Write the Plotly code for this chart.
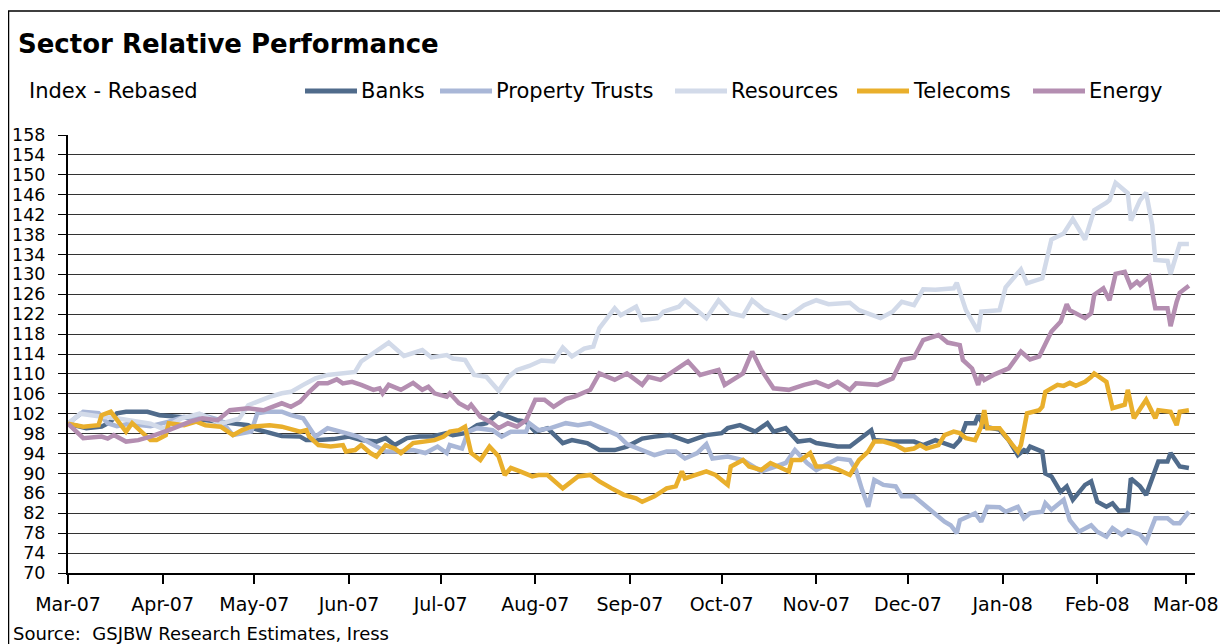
import plotly.graph_objects as go

# ---- data (index, rebased to 100 on 1 Mar 2007) ----
banks_dates = ["2007-03-01", "2007-03-07", "2007-03-12", "2007-03-15", "2007-03-17", "2007-03-20",
               "2007-03-27", "2007-03-31", "2007-04-06", "2007-04-11", "2007-04-20", "2007-04-29",
               "2007-05-01", "2007-05-06", "2007-05-10", "2007-05-16", "2007-05-18", "2007-05-22",
               "2007-05-27", "2007-06-01", "2007-06-05", "2007-06-10", "2007-06-13", "2007-06-16",
               "2007-06-20", "2007-06-24", "2007-06-28", "2007-07-03", "2007-07-05", "2007-07-09",
               "2007-07-13", "2007-07-16", "2007-07-20", "2007-07-23", "2007-07-26", "2007-07-29",
               "2007-08-01", "2007-08-05", "2007-08-10", "2007-08-13", "2007-08-18", "2007-08-22",
               "2007-08-27", "2007-08-31", "2007-09-05", "2007-09-09", "2007-09-14", "2007-09-20",
               "2007-09-26", "2007-10-01", "2007-10-03", "2007-10-07", "2007-10-12", "2007-10-16",
               "2007-10-18", "2007-10-22", "2007-10-26", "2007-10-30", "2007-11-01", "2007-11-05",
               "2007-11-08", "2007-11-12", "2007-11-14", "2007-11-19", "2007-11-20", "2007-11-26",
               "2007-12-03", "2007-12-06", "2007-12-10", "2007-12-15", "2007-12-16", "2007-12-18",
               "2007-12-20", "2007-12-23", "2007-12-24", "2007-12-26", "2007-12-31", "2008-01-03",
               "2008-01-06", "2008-01-08", "2008-01-09", "2008-01-10", "2008-01-14", "2008-01-15",
               "2008-01-17", "2008-01-20", "2008-01-22", "2008-01-24", "2008-01-28", "2008-01-30",
               "2008-02-01", "2008-02-04", "2008-02-06", "2008-02-08", "2008-02-11", "2008-02-12",
               "2008-02-15", "2008-02-17", "2008-02-20", "2008-02-21", "2008-02-24", "2008-02-25",
               "2008-02-28", "2008-03-02"]
banks_vals = [100.0, 99.1, 99.4, 100.4, 102.1, 102.4,
              102.4, 101.7, 101.4, 101.0, 100.5, 99.7,
              99.0, 98.1, 97.5, 97.4, 96.7, 96.7,
              96.9, 97.4, 96.7, 96.4, 97.1, 95.7,
              97.1, 97.4, 97.4, 98.1, 97.7, 98.1,
              99.7, 100.1, 102.1, 101.4, 100.7, 100.4,
              98.4, 99.1, 96.1, 96.7, 96.1, 94.7,
              94.7, 95.4, 97.0, 97.4, 97.7, 96.4,
              97.7, 98.1, 99.1, 99.7, 98.4, 100.1,
              98.4, 99.1, 96.4, 96.7, 96.1, 95.7,
              95.4, 95.4, 96.4, 98.7, 96.7, 96.4,
              96.4, 95.7, 96.7, 95.7, 95.4, 96.7,
              100.1, 100.1, 101.7, 99.4, 98.8, 96.7,
              93.7, 94.7, 94.4, 95.4, 94.4, 90.0,
              89.4, 86.3, 87.4, 84.7, 87.7, 88.4,
              84.3, 83.3, 84.0, 82.5, 82.6, 89.0,
              87.4, 85.7, 90.7, 92.4, 92.4, 94.1,
              91.4, 91.1]

property_dates = ["2007-03-01", "2007-03-06", "2007-03-11", "2007-03-14", "2007-03-17", "2007-03-21",
                  "2007-03-28", "2007-04-03", "2007-04-08", "2007-04-11", "2007-04-14", "2007-04-20",
                  "2007-04-24", "2007-04-29", "2007-04-30", "2007-05-02", "2007-05-05", "2007-05-10",
                  "2007-05-13", "2007-05-17", "2007-05-21", "2007-05-25", "2007-05-28", "2007-05-31",
                  "2007-06-04", "2007-06-09", "2007-06-13", "2007-06-17", "2007-06-22", "2007-06-26",
                  "2007-06-30", "2007-07-03", "2007-07-04", "2007-07-08", "2007-07-10", "2007-07-13",
                  "2007-07-18", "2007-07-21", "2007-07-24", "2007-07-29", "2007-07-30", "2007-08-02",
                  "2007-08-06", "2007-08-11", "2007-08-15", "2007-08-19", "2007-08-24", "2007-08-28",
                  "2007-08-31", "2007-09-05", "2007-09-09", "2007-09-13", "2007-09-16", "2007-09-19",
                  "2007-09-23", "2007-09-26", "2007-09-28", "2007-10-03", "2007-10-08", "2007-10-14",
                  "2007-10-17", "2007-10-22", "2007-10-25", "2007-10-29", "2007-11-01", "2007-11-05",
                  "2007-11-08", "2007-11-12", "2007-11-14", "2007-11-16", "2007-11-18", "2007-11-20",
                  "2007-11-23", "2007-11-27", "2007-11-29", "2007-12-03", "2007-12-07", "2007-12-10",
                  "2007-12-13", "2007-12-15", "2007-12-17", "2007-12-18", "2007-12-23", "2007-12-25",
                  "2007-12-27", "2007-12-31", "2008-01-02", "2008-01-06", "2008-01-08", "2008-01-10",
                  "2008-01-14", "2008-01-15", "2008-01-17", "2008-01-21", "2008-01-23", "2008-01-26",
                  "2008-01-30", "2008-02-01", "2008-02-04", "2008-02-06", "2008-02-09", "2008-02-11",
                  "2008-02-15", "2008-02-17", "2008-02-20", "2008-02-24", "2008-02-26", "2008-02-28",
                  "2008-03-02"]
property_vals = [100.0, 102.4, 102.1, 100.1, 99.5, 100.0,
                 99.5, 100.4, 101.4, 101.1, 101.7, 100.7,
                 97.7, 98.4, 98.4, 102.1, 102.4, 102.4,
                 101.7, 101.1, 97.4, 99.1, 98.7, 98.1,
                 97.4, 95.7, 94.4, 94.4, 94.7, 94.1,
                 95.4, 94.1, 95.7, 95.0, 98.4, 99.1,
                 98.7, 97.4, 98.4, 98.4, 100.1, 98.7,
                 99.1, 100.1, 99.7, 100.1, 98.7, 97.7,
                 95.9, 94.7, 93.7, 94.4, 94.4, 93.0,
                 94.1, 95.9, 93.0, 93.4, 92.7, 90.4,
                 91.1, 92.1, 94.7, 92.1, 90.7, 92.1,
                 93.0, 92.7, 90.7, 86.7, 83.3, 88.7,
                 87.7, 87.4, 85.4, 85.4, 83.3, 82.0,
                 80.3, 79.6, 78.0, 80.6, 82.0, 80.3,
                 83.3, 83.2, 82.3, 83.3, 81.0, 82.0,
                 82.3, 84.0, 82.7, 84.7, 80.6, 78.3,
                 79.6, 78.3, 77.3, 79.0, 77.7, 78.6,
                 77.7, 76.3, 81.0, 81.0, 80.0, 80.0,
                 82.3]

resources_dates = ["2007-03-01", "2007-03-05", "2007-03-11", "2007-03-18", "2007-03-28", "2007-04-01",
                   "2007-04-07", "2007-04-13", "2007-04-20", "2007-04-26", "2007-04-29", "2007-05-03",
                   "2007-05-06", "2007-05-10", "2007-05-13", "2007-05-17", "2007-05-21", "2007-05-25",
                   "2007-05-28", "2007-05-31", "2007-06-03", "2007-06-05", "2007-06-09", "2007-06-11",
                   "2007-06-14", "2007-06-19", "2007-06-25", "2007-06-28", "2007-07-03", "2007-07-05",
                   "2007-07-09", "2007-07-12", "2007-07-16", "2007-07-20", "2007-07-23", "2007-07-26",
                   "2007-07-30", "2007-08-03", "2007-08-07", "2007-08-10", "2007-08-13", "2007-08-17",
                   "2007-08-20", "2007-08-22", "2007-08-27", "2007-08-29", "2007-09-03", "2007-09-05",
                   "2007-09-10", "2007-09-12", "2007-09-17", "2007-09-19", "2007-09-26", "2007-09-30",
                   "2007-10-04", "2007-10-08", "2007-10-11", "2007-10-15", "2007-10-22", "2007-10-28",
                   "2007-11-01", "2007-11-05", "2007-11-12", "2007-11-15", "2007-11-22", "2007-11-26",
                   "2007-11-29", "2007-12-03", "2007-12-06", "2007-12-10", "2007-12-16", "2007-12-17",
                   "2007-12-20", "2007-12-24", "2007-12-25", "2007-12-31", "2008-01-02", "2008-01-07",
                   "2008-01-09", "2008-01-14", "2008-01-17", "2008-01-21", "2008-01-24", "2008-01-28",
                   "2008-01-31", "2008-02-04", "2008-02-05", "2008-02-07", "2008-02-11", "2008-02-12",
                   "2008-02-15", "2008-02-17", "2008-02-19", "2008-02-20", "2008-02-24", "2008-02-25",
                   "2008-02-28", "2008-03-02"]
resources_vals = [100.0, 102.0, 101.5, 101.0, 100.0, 99.0,
                  101.0, 102.0, 100.0, 101.0, 103.7, 104.8,
                  105.4, 106.1, 106.4, 107.8, 109.1, 109.8,
                  110.0, 110.1, 110.4, 112.5, 114.1, 115.1,
                  116.3, 113.6, 114.8, 113.3, 113.8, 113.1,
                  112.8, 109.8, 109.4, 106.6, 109.3, 110.8,
                  111.6, 112.7, 112.5, 115.3, 113.5, 115.1,
                  115.5, 119.2, 123.2, 121.8, 123.5, 120.8,
                  121.2, 122.5, 123.5, 124.8, 121.2, 124.8,
                  122.2, 121.6, 124.8, 122.8, 121.2, 123.8,
                  124.8, 124.0, 124.3, 122.8, 121.2, 122.5,
                  124.5, 123.8, 127.0, 126.9, 127.2, 128.3,
                  122.8, 118.5, 122.5, 122.8, 127.4, 131.0,
                  128.2, 129.2, 137.0, 138.2, 141.1, 137.0,
                  142.9, 144.4, 144.9, 148.4, 146.3, 140.8,
                  144.9, 146.4, 139.9, 132.9, 132.7, 130.1,
                  136.1, 136.1]

telecoms_dates = ["2007-03-01", "2007-03-06", "2007-03-11", "2007-03-12", "2007-03-15", "2007-03-17",
                  "2007-03-20", "2007-03-22", "2007-03-28", "2007-03-30", "2007-04-02", "2007-04-03",
                  "2007-04-08", "2007-04-12", "2007-04-15", "2007-04-20", "2007-04-24", "2007-04-27",
                  "2007-04-30", "2007-05-06", "2007-05-10", "2007-05-16", "2007-05-18", "2007-05-19",
                  "2007-05-22", "2007-05-26", "2007-05-30", "2007-05-31", "2007-06-03", "2007-06-05",
                  "2007-06-08", "2007-06-10", "2007-06-13", "2007-06-16", "2007-06-18", "2007-06-22",
                  "2007-06-26", "2007-06-29", "2007-07-02", "2007-07-04", "2007-07-07", "2007-07-09",
                  "2007-07-11", "2007-07-14", "2007-07-17", "2007-07-20", "2007-07-22", "2007-07-24",
                  "2007-07-27", "2007-07-31", "2007-08-02", "2007-08-05", "2007-08-10", "2007-08-13",
                  "2007-08-15", "2007-08-19", "2007-08-22", "2007-08-26", "2007-08-30", "2007-09-03",
                  "2007-09-05", "2007-09-09", "2007-09-13", "2007-09-16", "2007-09-18", "2007-09-19",
                  "2007-09-26", "2007-09-29", "2007-10-03", "2007-10-04", "2007-10-08", "2007-10-10",
                  "2007-10-14", "2007-10-17", "2007-10-23", "2007-10-24", "2007-10-27", "2007-10-30",
                  "2007-11-01", "2007-11-05", "2007-11-08", "2007-11-12", "2007-11-15", "2007-11-18",
                  "2007-11-20", "2007-11-23", "2007-11-27", "2007-11-30", "2007-12-03", "2007-12-05",
                  "2007-12-07", "2007-12-11", "2007-12-13", "2007-12-16", "2007-12-18", "2007-12-20",
                  "2007-12-23", "2007-12-25", "2007-12-26", "2007-12-27", "2007-12-31", "2008-01-03",
                  "2008-01-06", "2008-01-07", "2008-01-09", "2008-01-13", "2008-01-14", "2008-01-15",
                  "2008-01-19", "2008-01-21", "2008-01-23", "2008-01-25", "2008-01-28", "2008-01-30",
                  "2008-01-31", "2008-02-04", "2008-02-06", "2008-02-10", "2008-02-11", "2008-02-13",
                  "2008-02-17", "2008-02-20", "2008-02-21", "2008-02-25", "2008-02-27", "2008-02-28",
                  "2008-03-02"]
telecoms_vals = [100.0, 99.4, 99.7, 101.7, 102.4, 100.7,
                 98.4, 100.1, 96.7, 96.7, 97.7, 100.1,
                 99.7, 100.4, 99.7, 99.4, 97.7, 98.7,
                 99.4, 99.7, 99.4, 98.4, 98.7, 97.4,
                 95.7, 95.4, 95.7, 94.4, 94.7, 95.7,
                 94.1, 93.4, 95.7, 95.0, 94.1, 96.1,
                 96.4, 96.7, 97.4, 98.4, 98.7, 99.4,
                 94.1, 92.7, 95.4, 93.4, 89.7, 91.1,
                 90.4, 89.4, 89.7, 89.7, 87.0, 88.4,
                 89.4, 89.7, 88.4, 87.0, 85.7, 85.0,
                 84.3, 85.4, 87.0, 87.4, 90.4, 89.0,
                 90.4, 89.7, 87.7, 91.4, 92.7, 91.4,
                 90.7, 92.1, 90.4, 92.7, 92.7, 94.1,
                 91.4, 91.4, 90.8, 89.7, 92.7, 94.4,
                 96.4, 96.4, 95.7, 94.7, 95.0, 95.7,
                 95.0, 95.7, 97.7, 98.4, 98.1, 97.1,
                 96.7, 99.4, 102.7, 99.1, 99.1, 96.7,
                 94.4, 95.7, 102.1, 102.7, 103.4, 106.4,
                 107.8, 107.6, 108.2, 107.6, 108.4, 109.4,
                 110.1, 108.4, 103.1, 103.8, 106.8, 101.1,
                 104.8, 101.1, 102.7, 102.4, 99.7, 102.4,
                 102.7]

energy_dates = ["2007-03-01", "2007-03-06", "2007-03-12", "2007-03-14", "2007-03-16", "2007-03-20",
                "2007-03-24", "2007-03-28", "2007-04-03", "2007-04-10", "2007-04-14", "2007-04-19",
                "2007-04-23", "2007-04-29", "2007-05-04", "2007-05-10", "2007-05-13", "2007-05-16",
                "2007-05-19", "2007-05-22", "2007-05-25", "2007-05-28", "2007-05-30", "2007-06-02",
                "2007-06-05", "2007-06-09", "2007-06-11", "2007-06-12", "2007-06-14", "2007-06-18",
                "2007-06-22", "2007-06-25", "2007-06-27", "2007-06-29", "2007-07-03", "2007-07-04",
                "2007-07-07", "2007-07-10", "2007-07-11", "2007-07-14", "2007-07-18", "2007-07-20",
                "2007-07-23", "2007-07-26", "2007-07-29", "2007-08-01", "2007-08-04", "2007-08-07",
                "2007-08-11", "2007-08-14", "2007-08-19", "2007-08-22", "2007-08-27", "2007-08-31",
                "2007-09-05", "2007-09-07", "2007-09-11", "2007-09-17", "2007-09-20", "2007-09-24",
                "2007-09-30", "2007-10-02", "2007-10-08", "2007-10-11", "2007-10-14", "2007-10-18",
                "2007-10-23", "2007-10-28", "2007-11-01", "2007-11-05", "2007-11-08", "2007-11-12",
                "2007-11-14", "2007-11-21", "2007-11-26", "2007-11-29", "2007-12-03", "2007-12-06",
                "2007-12-11", "2007-12-14", "2007-12-18", "2007-12-19", "2007-12-22", "2007-12-24",
                "2007-12-25", "2007-12-26", "2007-12-29", "2008-01-03", "2008-01-07", "2008-01-10",
                "2008-01-13", "2008-01-17", "2008-01-20", "2008-01-22", "2008-01-23", "2008-01-28",
                "2008-01-30", "2008-01-31", "2008-02-03", "2008-02-05", "2008-02-07", "2008-02-10",
                "2008-02-12", "2008-02-14", "2008-02-15", "2008-02-18", "2008-02-20", "2008-02-24",
                "2008-02-25", "2008-02-27", "2008-02-28", "2008-03-02"]
energy_vals = [100.0, 97.1, 97.4, 97.0, 97.7, 96.4,
               96.7, 97.4, 98.7, 100.4, 101.1, 100.7,
               102.7, 103.1, 102.7, 104.1, 103.4, 104.4,
               106.4, 108.1, 108.1, 108.9, 108.1, 108.4,
               107.8, 106.8, 107.1, 106.1, 107.8, 106.8,
               108.2, 106.8, 107.4, 106.1, 105.4, 106.1,
               104.1, 103.1, 103.8, 101.4, 100.1, 99.1,
               100.1, 99.4, 100.7, 104.8, 104.8, 103.4,
               105.0, 105.5, 106.8, 110.1, 108.8, 110.1,
               107.8, 109.4, 108.8, 111.4, 112.5, 109.8,
               110.8, 107.8, 110.1, 114.5, 110.8, 107.1,
               106.8, 107.8, 108.4, 107.4, 108.4, 106.8,
               108.1, 107.8, 109.1, 112.8, 113.3, 116.8,
               117.8, 116.3, 115.8, 112.8, 111.1, 107.8,
               109.8, 108.8, 109.8, 111.1, 114.5, 112.9,
               113.5, 118.5, 120.5, 124.0, 122.8, 121.2,
               122.2, 125.9, 127.2, 124.8, 130.1, 130.5,
               127.5, 128.5, 127.9, 129.5, 123.2, 123.2,
               119.6, 124.5, 126.3, 127.7]

series_names = ["Banks", "Property Trusts", "Resources", "Telecoms", "Energy"]
series_colors = ["#506b8b", "#a9b7d7", "#d2dae9", "#e9af2c", "#b48eb1"]
series_data = [(banks_dates, banks_vals), (property_dates, property_vals),
               (resources_dates, resources_vals), (telecoms_dates, telecoms_vals),
               (energy_dates, energy_vals)]

y_ticks = list(range(70, 159, 4))
month_ticks = ["2007-03-01", "2007-04-01", "2007-05-01", "2007-06-01", "2007-07-01", "2007-08-01",
               "2007-09-01", "2007-10-01", "2007-11-01", "2007-12-01", "2008-01-01", "2008-02-01",
               "2008-03-01"]
month_labels = ["Mar-07", "Apr-07", "May-07", "Jun-07", "Jul-07", "Aug-07", "Sep-07", "Oct-07",
                "Nov-07", "Dec-07", "Jan-08", "Feb-08", "Mar-08"]

FONT = "DejaVu Sans"

# the page puts the figure 8px in from the top-left corner (body margin),
# so the figure is 8px smaller and everything below is in page pixels
OFF = 8
W, H = 1228 - OFF, 644 - OFF
L, R, T, B = 68, 1195, 135, 573   # plot area, page pixels


def px(x):
    return (x - L) / (R - L)


def py(y):
    return (B - y) / (B - T)


fig = go.Figure()

for (d, v), name, col in zip(series_data, series_names, series_colors):
    fig.add_trace(go.Scatter(x=d, y=v, name=name, mode="lines",
                             line=dict(color=col, width=4.5), showlegend=False))

fig.update_layout(
    width=W, height=H,
    margin=dict(l=L - OFF, r=1228 - R, t=T - OFF, b=644 - B, autoexpand=False),
    paper_bgcolor="white", plot_bgcolor="white",
    font=dict(family=FONT, size=18, color="#000000"),
    title=dict(text="<b>Sector Relative Performance</b>", x=(18 - OFF) / W, xanchor="left",
               y=1 - (44 - OFF) / H, yanchor="middle", font=dict(family=FONT, size=26)),
)

fig.update_xaxes(type="date", range=["2007-03-01", "2008-03-04"],
                 tickvals=month_ticks, ticktext=month_labels, automargin=False,
                 showgrid=False, showline=True, linecolor="#000000", linewidth=2,
                 ticks="outside", ticklen=9, tickwidth=2, tickcolor="#000000",
                 ticklabelstandoff=4,
                 tickfont=dict(family=FONT, size=19), zeroline=False)
fig.update_yaxes(range=[70, 158], tickvals=y_ticks, ticktext=[str(t) for t in y_ticks],
                 automargin=False,
                 showgrid=True, gridcolor="#333333", gridwidth=1,
                 showline=True, linecolor="#000000", linewidth=2,
                 ticks="outside", ticklen=8, tickcolor="#000000",
                 ticklabelstandoff=9,
                 tickfont=dict(family=FONT, size=17.5), zeroline=False)

# frame round the whole chart
fig.add_shape(type="rect", xref="paper", yref="paper",
              x0=px(8.5), x1=px(1232), y0=py(652), y1=py(11),
              line=dict(color="#000000", width=1.5), layer="below")

# axis caption and source
fig.add_annotation(text="Index - Rebased", xref="paper", yref="paper", x=px(27), y=py(91),
                   xanchor="left", yanchor="middle", showarrow=False,
                   font=dict(family=FONT, size=21))
fig.add_annotation(text="Source:  GSJBW Research Estimates, Iress", xref="paper", yref="paper",
                   x=px(11), y=py(633), xanchor="left", yanchor="middle", showarrow=False,
                   font=dict(family=FONT, size=18))

# legend drawn by hand to match the long line keys of the original
legend_x = [305, 440, 675, 857, 1033]
for lx, name, col in zip(legend_x, series_names, series_colors):
    fig.add_shape(type="line", xref="paper", yref="paper",
                  x0=px(lx), x1=px(lx + 52), y0=py(91), y1=py(91),
                  line=dict(color=col, width=5))
    fig.add_annotation(text=name, xref="paper", yref="paper", x=px(lx + 54), y=py(91),
                       xanchor="left", yanchor="middle", showarrow=False,
                       font=dict(family=FONT, size=21))

fig.write_html("out.html")
